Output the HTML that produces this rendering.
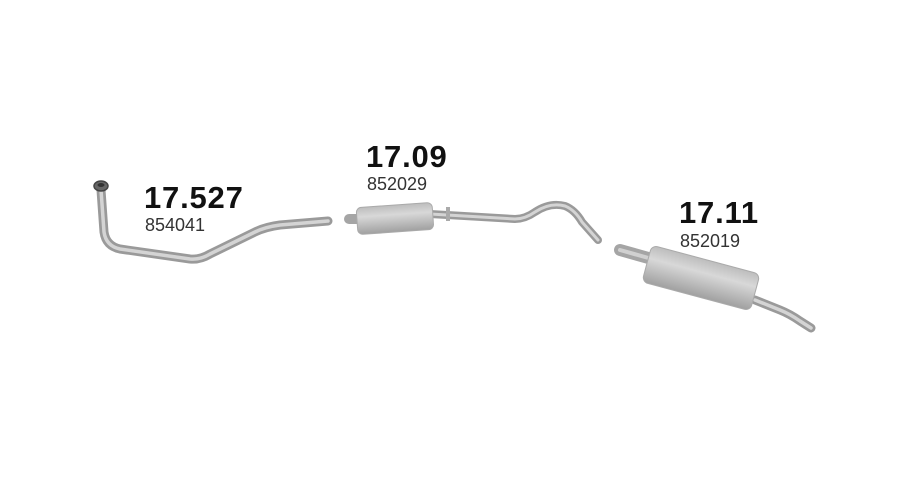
<!DOCTYPE html>
<html><head><meta charset="utf-8"><style>
html,body{margin:0;padding:0;background:#fff;width:900px;height:500px;overflow:hidden}
svg{display:block}
text{font-family:"Liberation Sans",Arial,sans-serif;fill:#111}
.b{font-weight:bold;font-size:31px;letter-spacing:0.8px}
.n{font-size:18px;fill:#333}
</style></head><body>
<svg width="900" height="500" viewBox="0 0 900 500">
<defs>
<linearGradient id="m" x1="0" y1="0" x2="0" y2="1">
<stop offset="0" stop-color="#bdbdbd"/><stop offset="0.35" stop-color="#d8d8d8"/><stop offset="1" stop-color="#a0a0a0"/>
</linearGradient>
</defs>
<g fill="none" stroke-linecap="round" stroke-linejoin="round">
<path d="M101 190 L104 232 Q106 246 120 249 L190 259 Q200 260 210 254 L255 232 Q265 227 280 225 L328 221" stroke="#9a9a9a" stroke-width="9"/>
<path d="M101 190 L104 232 Q106 246 120 249 L190 259 Q200 260 210 254 L255 232 Q265 227 280 225 L328 221" stroke="#d4d4d4" stroke-width="3.5"/>
<path d="M430 214 L515 219 Q525 219 535 212 Q550 202 565 206 Q575 210 582 222 L598 240" stroke="#9a9a9a" stroke-width="8"/>
<path d="M430 214 L515 219 Q525 219 535 212 Q550 202 565 206 Q575 210 582 222 L598 240" stroke="#d4d4d4" stroke-width="3"/>
<path d="M349 219 L360 219" stroke="#a5a5a5" stroke-width="10"/>
<path d="M620 250 L652 259" stroke="#a5a5a5" stroke-width="12"/>
<path d="M620 250 L652 259" stroke="#d0d0d0" stroke-width="4"/>
<path d="M755 300 L780 310 Q790 314 800 321 L811 328" stroke="#9a9a9a" stroke-width="9"/>
<path d="M755 300 L780 310 Q790 314 800 321 L811 328" stroke="#d4d4d4" stroke-width="3.5"/>
</g>
<ellipse cx="101" cy="186" rx="7" ry="5" fill="#666" stroke="#444" stroke-width="1.5"/>
<ellipse cx="101" cy="185" rx="3.5" ry="2" fill="#333"/>
<rect x="357" y="205" width="76" height="27" rx="5" fill="url(#m)" stroke="#aaa" stroke-width="1" transform="rotate(-4 395 219)"/>
<rect x="446" y="207" width="4" height="14" fill="#aaa"/>
<g transform="rotate(15 701 278)">
<rect x="645" y="259" width="112" height="38" rx="6" fill="url(#m)" stroke="#aaa" stroke-width="1"/>
</g>
<text class="b" x="144" y="208">17.527</text>
<text class="n" x="145" y="231">854041</text>
<text class="b" x="366" y="167">17.09</text>
<text class="n" x="367" y="190">852029</text>
<text class="b" x="679" y="223">17.11</text>
<text class="n" x="680" y="247">852019</text>
</svg>
</body></html>
